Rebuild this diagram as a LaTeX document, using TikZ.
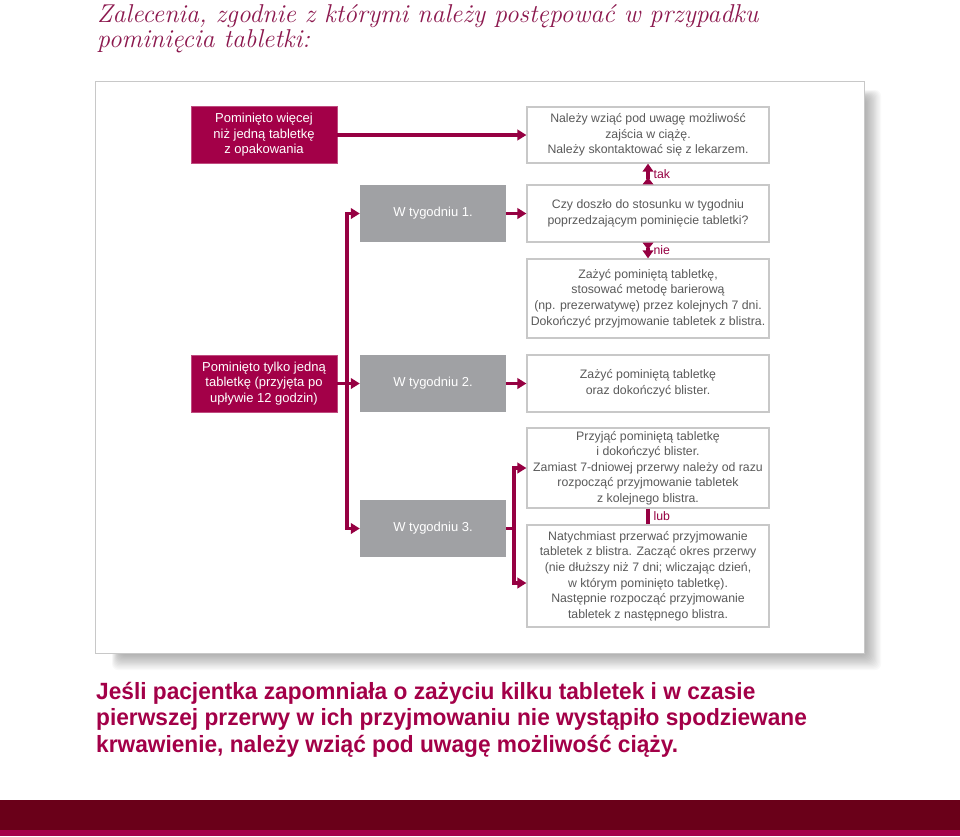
\documentclass[tikz,border=0pt]{standalone}
\usepackage{fontspec}
\setmainfont{Liberation Sans}
\newfontfamily\condfont[FakeStretch=0.965]{Liberation Sans}
\newfontfamily\titlefont{Latin Modern Roman}
\usetikzlibrary{arrows.meta}
\definecolor{crim}{RGB}{163,0,72}
\definecolor{crimline}{RGB}{150,0,66}
\definecolor{titlecol}{RGB}{140,24,78}
\definecolor{wgray}{RGB}{160,161,164}
\definecolor{boxline}{RGB}{200,200,200}
\definecolor{txtgray}{RGB}{90,90,90}
\definecolor{bardark}{RGB}{106,0,25}
\definecolor{barlight}{RGB}{165,0,74}
\tikzset{
  redbox/.style={fill=crim, draw=crim!70!white, line width=0.8pt, text=white, align=center,
    minimum width=146pt, minimum height=57pt, inner sep=0pt,
    font=\fontsize{13}{15.5}\selectfont},
  weekbox/.style={fill=wgray, draw=none, text=white, align=center,
    minimum width=146pt, minimum height=57pt, inner sep=0pt,
    font=\fontsize{13}{15.5}\selectfont},
  infobox/.style={fill=white, draw=boxline, line width=1.2pt, text=txtgray, align=center,
    minimum width=242pt, inner sep=0pt,
    font=\fontsize{12.3}{15.6}\selectfont},
  conn/.style={draw=crimline, line width=3.2pt},
  arr/.style={conn, -{Triangle[length=9pt,width=10.5pt]}},
  arrboth/.style={conn, {Triangle[length=9pt,width=10.5pt]}-{Triangle[length=9pt,width=10.5pt]}},
  flare/.style={conn, {Triangle[reversed,length=7pt,width=10.5pt]}-{Triangle[length=8pt,width=10.5pt]}},
  lbl/.style={text=crimline, font=\fontsize{12.3}{14}\selectfont, anchor=west, inner sep=0pt}
}
\begin{document}
\begin{tikzpicture}[x=1pt,y=-1pt]
\useasboundingbox (0,0) rectangle (960,836);
\fill[white] (0,0) rectangle (960,836);

% title (base anchor = last line)
\node[anchor=base west, inner sep=0pt, align=left, text=titlecol,
  font=\titlefont\itshape\fontsize{25.8}{25}\selectfont] (title) at (97,47)
  {Zalecenia, zgodnie z którymi należy postępować w przypadku\\pominięcia tabletki:};

% panel soft shadow
\foreach \i in {0,...,13}
  \fill[black, opacity=0.022, rounded corners=6pt]
    (112+\i*0.6, 90+\i*0.6) rectangle (881-\i*1.2, 670-\i*1.2);

% panel
\node[draw=boxline, line width=1pt, fill=white, minimum width=769pt, minimum height=572pt,
  inner sep=0pt, anchor=north west] (panel) at (95,81) {};

% left column
\node[redbox] (red1) at (264,135) {Pominięto więcej\\niż jedną tabletkę\\z opakowania};
\node[redbox] (red2) at (264,383.5) {Pominięto tylko jedną\\tabletkę (przyjęta po\\upływie 12 godzin)};

% week boxes
\node[weekbox] (w1) at (433,213.5) {W tygodniu 1.};
\node[weekbox] (w2) at (433,383.5) {W tygodniu 2.};
\node[weekbox] (w3) at (433,528.5) {W tygodniu 3.};

% info boxes
\node[infobox, minimum height=56pt] (a) at (648,135)
  {Należy wziąć pod uwagę możliwość\\zajścia w ciążę.\\Należy skontaktować się z lekarzem.};
\node[infobox, minimum height=57pt] (b) at (648,213.5)
  {Czy doszło do stosunku w tygodniu\\poprzedzającym pominięcie tabletki?};
\node[infobox, minimum height=79pt] (c) at (648,298.5)
  {Zażyć pominiętą tabletkę,\\stosować metodę barierową\\(np. prezerwatywę) przez kolejnych 7 dni.\\Dokończyć przyjmowanie tabletek z blistra.};
\node[infobox, minimum height=57pt] (d) at (648,383.5)
  {Zażyć pominiętą tabletkę\\oraz dokończyć blister.};
\node[infobox, minimum height=80pt] (e) at (648,468)
  {Przyjąć pominiętą tabletkę\\i dokończyć blister.\\Zamiast 7-dniowej przerwy należy od razu\\rozpocząć przyjmowanie tabletek\\z kolejnego blistra.};
\node[infobox, minimum height=102pt] (f) at (648,576)
  {Natychmiast przerwać przyjmowanie\\tabletek z blistra. Zacząć okres przerwy\\(nie dłuższy niż 7 dni; wliczając dzień,\\w którym pominięto tabletkę).\\Następnie rozpocząć przyjmowanie\\tabletek z następnego blistra.};

% connectors
\coordinate (vtop) at (347,213.5);
\coordinate (vbot) at (347,528.5);
\coordinate (je) at (514,468);
\coordinate (jf) at (514,583);

\draw[arr] (red1.east) -- (a.west);
\draw[arr] (w1.east) -- (b.west);
\draw[flare] (b.north) -- (a.south) node[lbl, midway, xshift=4pt] {tak};
\draw[flare] (b.south) -- (c.north) node[lbl, midway, xshift=4pt] {nie};
\draw[arrboth] (w1.west) -- (vtop) -- (vbot) -- (w3.west);
\draw[arr] (red2.east) -- (w2.west);
\draw[arr] (w2.east) -- (d.west);
\draw[conn] (w3.east) -- (w3.east -| je);
\draw[arrboth] (e.west |- je) -- (je) -- (jf) -- (f.west |- jf);
\draw[conn] (e.south) -- (f.north) node[lbl, midway, xshift=4pt] {lub};

% bottom text (base anchor = last line)
\node[anchor=base west, inner sep=0pt, align=left, text=crim,
  font=\condfont\bfseries\fontsize{23.5}{26.5}\selectfont] (note) at (96,752)
  {Jeśli pacjentka zapomniała o zażyciu kilku tabletek i w czasie\\pierwszej przerwy w ich przyjmowaniu nie wystąpiło spodziewane\\krwawienie, należy wziąć pod uwagę możliwość ciąży.};

% bottom bar
\fill[bardark] (0,800) rectangle (960,830);
\fill[barlight] (0,830) rectangle (960,836);
\end{tikzpicture}
\end{document}
